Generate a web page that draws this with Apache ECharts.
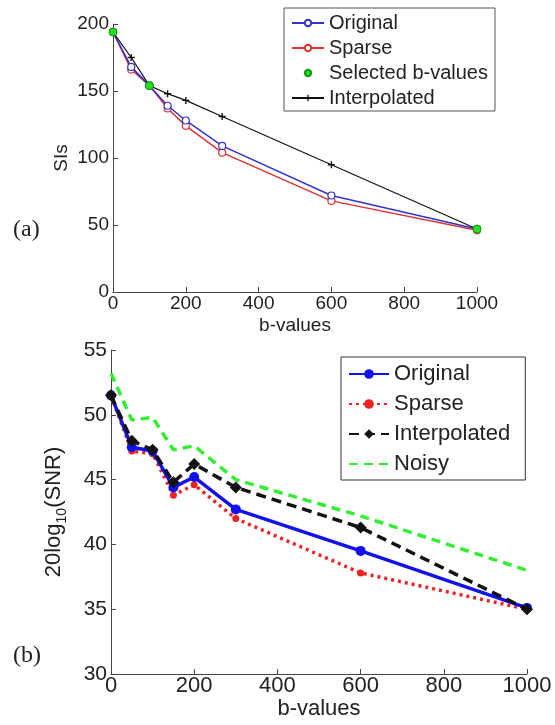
<!DOCTYPE html>
<html><head><meta charset="utf-8">
<script src="https://cdn.jsdelivr.net/npm/echarts@6/dist/echarts.min.js"></script>
<style>html,body{margin:0;padding:0;background:#fff}#c{width:555px;height:725px}</style>
</head><body><div id="c"></div>
<script>
// ---- data ----
const bValues = [0, 50, 100, 150, 200, 300, 600, 1000];
const xTicks = [0, 200, 400, 600, 800, 1000];
const topYTicks = [0, 50, 100, 150, 200];
const bottomYTicks = [30, 35, 40, 45, 50, 55];

// (a) SIs
const topOriginal     = [194, 168, 154, 139, 128, 109, 72, 47];
const topSparse       = [194, 166, 154, 137, 124, 104, 68, 46];
const topInterpolated = [194, 175, 154, 148, 143, 131, 95, 47];
const selectedB       = [0, 100, 1000];
const selectedSIs     = [194, 154, 47];

// (b) 20log10(SNR)
const snrOriginal     = [51.5, 47.5, 47.2, 44.4, 45.2, 42.7, 39.5, 35.1];
const snrSparse       = [51.5, 47.2, 47.0, 43.8, 44.6, 42.0, 37.8, 35.0];
const snrInterpolated = [51.5, 48.0, 47.3, 44.8, 46.2, 44.4, 41.3, 35.0];
const snrNoisy        = [53.2, 49.6, 49.8, 47.3, 47.6, 45.0, 42.2, 38.0];

const FONT = 'Liberation Sans, Arial, sans-serif';
const pairs = (xs, ys) => xs.map((x, i) => [x, ys[i]]);
const plusPath = 'path://M4,0h2v4h4v2h-4v4h-2v-4h-4v-2h4z';

function axisBase(fs, margin) {
  return {
    axisLine: { show: true, onZero: false, lineStyle: { color: '#444', width: 1 } },
    axisTick: { show: true, inside: true, length: 5, lineStyle: { color: '#444' } },
    splitLine: { show: false },
    axisLabel: { color: '#222', fontFamily: FONT, fontSize: fs, margin: margin, formatter: v => String(v) },
    nameTextStyle: { color: '#222', fontFamily: FONT, fontSize: fs }
  };
}

const chart = echarts.init(document.getElementById('c'), null, { renderer: 'canvas' });

const option = {
  backgroundColor: '#fff',
  animation: false,
  grid: [
    { left: 113, top: 24, width: 364, height: 268 },
    { left: 111, top: 350, width: 416, height: 324 }
  ],
  xAxis: [
    Object.assign(axisBase(19, 2), {
      type: 'value', gridIndex: 0, min: xTicks[0], max: xTicks[xTicks.length - 1], interval: 200,
      name: 'b-values', nameLocation: 'middle', nameGap: 24
    }),
    Object.assign(axisBase(22, 1), {
      type: 'value', gridIndex: 1, min: xTicks[0], max: xTicks[xTicks.length - 1], interval: 200,
      name: 'b-values', nameLocation: 'middle', nameGap: 22
    })
  ],
  yAxis: [
    Object.assign(axisBase(19, 4), {
      type: 'value', gridIndex: 0, min: topYTicks[0], max: topYTicks[topYTicks.length - 1], interval: 50,
      name: 'SIs', nameLocation: 'middle', nameGap: 42, nameRotate: 90, nameMoveOverlap: false
    }),
    Object.assign(axisBase(21, 4), {
      type: 'value', gridIndex: 1, min: bottomYTicks[0], max: bottomYTicks[bottomYTicks.length - 1], interval: 5,
      name: '{m|20log}{s|10}{m|(SNR)}', nameLocation: 'middle', nameGap: 42, nameRotate: 90,
      nameTextStyle: {
        color: '#222', fontFamily: FONT, fontSize: 22,
        rich: {
          m: { fontFamily: FONT, fontSize: 22, color: '#222', lineHeight: 30, verticalAlign: 'middle' },
          s: { fontFamily: FONT, fontSize: 14, color: '#222', lineHeight: 30, verticalAlign: 'bottom' }
        }
      }
    })
  ],
  legend: [
    {
      orient: 'vertical', left: 284, top: 8,
      padding: [5, 7, 3, 7], itemGap: 5, itemWidth: 32, itemHeight: 8,
      borderColor: '#555', borderWidth: 1, backgroundColor: '#fff',
      textStyle: { fontFamily: FONT, fontSize: 20, color: '#222', lineHeight: 20 },
      data: ['Original', 'Sparse', 'Selected b-values', 'Interpolated']
    },
    {
      orient: 'vertical', left: 341, top: 357,
      padding: [5, 9, 4, 7], itemGap: 6, itemWidth: 40, itemHeight: 12,
      borderColor: '#333', borderWidth: 1, backgroundColor: '#fff',
      textStyle: { fontFamily: FONT, fontSize: 22, color: '#222', lineHeight: 24 },
      data: ['Original ', 'Sparse ', 'Interpolated ', 'Noisy']
    }
  ],
  graphic: [
    { type: 'text', left: 13, top: 218, style: { text: '(a)', font: '24px "Liberation Serif", "Times New Roman", serif', fill: '#222' } },
    { type: 'text', left: 13, top: 644, style: { text: '(b)', font: '24px "Liberation Serif", "Times New Roman", serif', fill: '#222' } }
  ],
  series: [
    {
      name: 'Original', type: 'line', xAxisIndex: 0, yAxisIndex: 0,
      data: pairs(bValues, topOriginal),
      lineStyle: { color: '#3333cc', width: 1.5 },
      itemStyle: { color: '#fff', borderColor: '#3333cc', borderWidth: 1.2 },
      symbol: 'circle', symbolSize: 7, z: 3
    },
    {
      name: 'Sparse', type: 'line', xAxisIndex: 0, yAxisIndex: 0,
      data: pairs(bValues, topSparse),
      lineStyle: { color: '#dd3333', width: 1.5 },
      itemStyle: { color: '#fff', borderColor: '#dd3333', borderWidth: 1.2 },
      symbol: 'circle', symbolSize: 7, z: 2
    },
    {
      name: 'Selected b-values', type: 'line', xAxisIndex: 0, yAxisIndex: 0,
      data: pairs(selectedB, selectedSIs),
      lineStyle: { opacity: 0, width: 0 },
      itemStyle: { color: '#22dd22', borderColor: '#119911', borderWidth: 1 },
      symbol: 'circle', symbolSize: 8, z: 5
    },
    {
      name: 'Interpolated', type: 'line', xAxisIndex: 0, yAxisIndex: 0,
      data: pairs(bValues, topInterpolated),
      lineStyle: { color: '#111', width: 1.2 },
      itemStyle: { color: '#111' },
      symbol: plusPath, symbolSize: 7, z: 4
    },
    {
      name: 'Noisy', type: 'line', xAxisIndex: 1, yAxisIndex: 1,
      data: pairs(bValues, snrNoisy),
      lineStyle: { color: '#33ee33', width: 3.5, type: [9, 6] },
      itemStyle: { color: '#33ee33', opacity: 0 },
      symbol: 'circle', symbolSize: 0, showSymbol: false, z: 1
    },
    {
      name: 'Sparse ', type: 'line', xAxisIndex: 1, yAxisIndex: 1,
      data: pairs(bValues, snrSparse),
      lineStyle: { color: '#ee2222', width: 3.5, type: [3, 4] },
      itemStyle: { color: '#ee2222' },
      symbol: 'circle', symbolSize: 7, z: 2
    },
    {
      name: 'Original ', type: 'line', xAxisIndex: 1, yAxisIndex: 1,
      data: pairs(bValues, snrOriginal),
      lineStyle: { color: '#1111ee', width: 3.5 },
      itemStyle: { color: '#1111ee' },
      symbol: 'circle', symbolSize: 10, z: 3
    },
    {
      name: 'Interpolated ', type: 'line', xAxisIndex: 1, yAxisIndex: 1,
      data: pairs(bValues, snrInterpolated),
      lineStyle: { color: '#111', width: 3.5, type: [10, 6] },
      itemStyle: { color: '#111' },
      symbol: 'diamond', symbolSize: 12, z: 4
    }
  ]
};
chart.setOption(option);
</script>
</body></html>
